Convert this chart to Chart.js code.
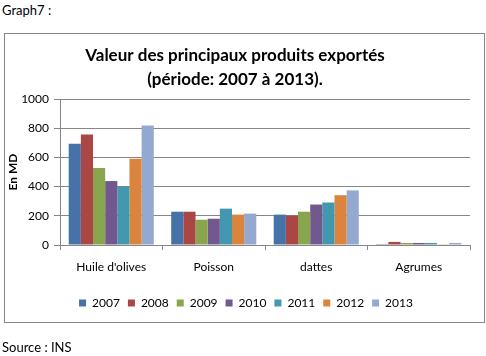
<!DOCTYPE html>
<html>
<head>
<meta charset="utf-8">
<script src="https://cdn.jsdelivr.net/npm/chart.js@4/dist/chart.umd.min.js"></script>
<style>
  html, body { margin: 0; padding: 0; background: #fff; }
  body { width: 486px; height: 356px; position: relative; overflow: hidden; font-family: Lato, "Liberation Sans", sans-serif; }
  #frame { position: absolute; left: 4px; top: 33px; width: 479px; height: 288px; border: 1px solid #868686; box-sizing: content-box; }
  .note { position: absolute; left: 2px; font-size: 13px; color: #000; }
  canvas { position: absolute; left: 0; top: 0; }
</style>
</head>
<body>
<div class="note" style="top:2px;">Graph7 :</div>
<div id="frame"></div>
<canvas id="c" width="486" height="356"></canvas>
<div class="note" style="top:339px;">Source : INS</div>
<script>
const categories = ["Huile d'olives", "Poisson", "dattes", "Agrumes"];
const years = ["2007", "2008", "2009", "2010", "2011", "2012", "2013"];
const v2007 = [694, 228, 208, 6];
const v2008 = [756, 228, 201, 21];
const v2009 = [528, 173, 228, 14];
const v2010 = [438, 180, 277, 14];
const v2011 = [401, 249, 291, 14];
const v2012 = [590, 208, 341, 5];
const v2013 = [819, 215, 374, 14];
const yTicks = [0, 200, 400, 600, 800, 1000];
const colors = ["#4572A7", "#AA4643", "#89A54E", "#71588F", "#4198AF", "#DB843D", "#93A9CF"];
const series = [v2007, v2008, v2009, v2010, v2011, v2012, v2013];

const FONT = "Lato, 'Liberation Sans', sans-serif";
const grid = "#868686";

const shiftBoxes = {
  id: 'shiftBoxes',
  afterLayout(chart) {
    if (chart.legend) { chart.legend.left += 11; chart.legend.right += 11; }
  }
};

new Chart(document.getElementById('c'), {
  type: 'bar',
  data: {
    labels: categories,
    datasets: series.map((d, i) => ({
      label: years[i],
      data: d,
      backgroundColor: colors[i],
      borderWidth: 0,
      categoryPercentage: 0.83,
      barPercentage: 1.0
    }))
  },
  plugins: [shiftBoxes],
  options: {
    responsive: false,
    animation: false,
    devicePixelRatio: 1,
    layout: { padding: { top: 34, right: 16, bottom: 37, left: 0 } },
    plugins: {
      title: {
        display: true,
        text: ["Valeur des principaux produits exportés", "(période: 2007 à 2013)."],
        color: "#000",
        font: { family: FONT, size: 17, weight: 'bold', lineHeight: '24px' },
        padding: { top: 10, bottom: 7 }
      },
      legend: {
        position: 'bottom',
        labels: {
          color: "#000",
          font: { family: FONT, size: 12 },
          boxWidth: 7,
          boxHeight: 7,
          padding: 8
        }
      },
      tooltip: { enabled: false }
    },
    scales: {
      x: {
        offset: true,
        grid: { offset: true, drawOnChartArea: false, drawTicks: true, tickLength: 5, color: grid },
        border: { display: true, color: grid },
        ticks: { color: "#000", font: { family: FONT, size: 12 }, padding: 10, maxRotation: 0 },
        afterFit: (s) => { s.height = 44; }
      },
      y: {
        min: 0,
        max: 1000,
        afterBuildTicks: (s) => { s.ticks = yTicks.map(v => ({ value: v })); },
        grid: { color: grid, tickLength: 6, drawTicks: true },
        border: { display: true, color: grid },
        ticks: { color: "#000", font: { family: FONT, size: 12 }, padding: 5, callback: (v) => String(v) },
        title: { display: true, text: "En MD", color: "#000", font: { family: FONT, size: 12, weight: 'bold' }, padding: { top: 6, bottom: 0 } },
        afterFit: (s) => { s.width = 60; }
      }
    }
  }
});
</script>
</body>
</html>
